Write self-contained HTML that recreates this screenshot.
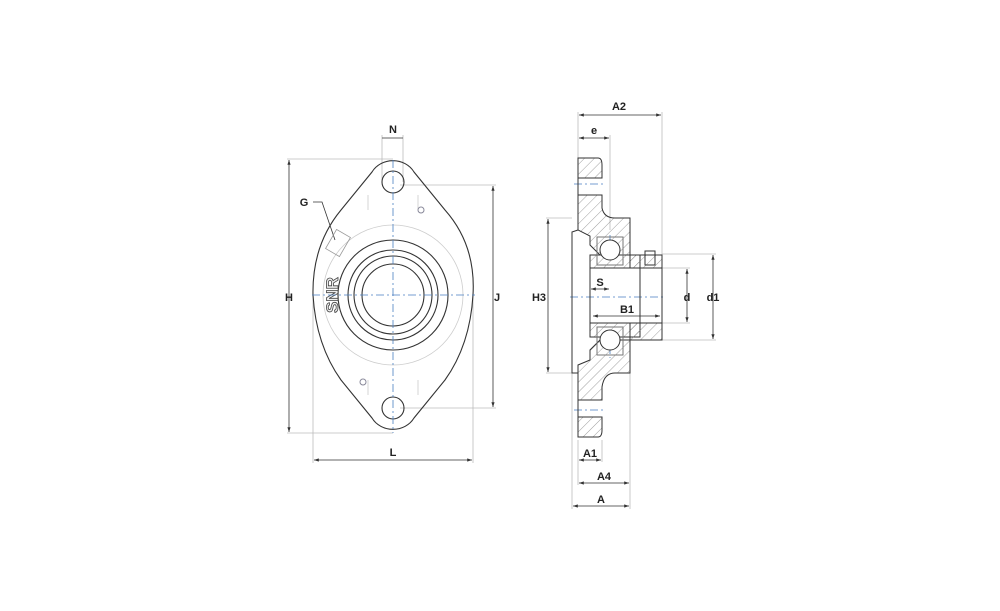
<!DOCTYPE html>
<html><head><meta charset="utf-8"><style>
html,body{margin:0;padding:0;background:#fff;}
svg{display:block;}
text{font-family:"Liberation Sans",sans-serif;font-weight:bold;font-size:11px;fill:#222;text-anchor:middle;}
</style></head><body>
<svg width="1000" height="611" viewBox="0 0 1000 611" xmlns="http://www.w3.org/2000/svg">
<defs>
<pattern id="h" width="7" height="7" patternUnits="userSpaceOnUse" patternTransform="rotate(45)">
<line x1="0" y1="0" x2="0" y2="7" stroke="#777" stroke-width="0.7"/></pattern>
<marker id="a" markerWidth="6" markerHeight="6" refX="6" refY="3" orient="auto-start-reverse"><path d="M0,1 L6,3 L0,5z" fill="#333"/></marker>
</defs>
<g fill="none" stroke="#bbb" stroke-width="0.8">
<line x1="287" y1="159" x2="393" y2="159"/><line x1="287" y1="433" x2="393" y2="433"/>
<line x1="400" y1="185" x2="496" y2="185"/><line x1="400" y1="408" x2="496" y2="408"/>
<line x1="313" y1="295" x2="313" y2="463"/><line x1="473" y1="295" x2="473" y2="463"/>
<line x1="382" y1="135" x2="382" y2="182"/><line x1="403" y1="135" x2="403" y2="182"/>
<line x1="578" y1="112" x2="578" y2="158"/><line x1="662" y1="112" x2="662" y2="255"/>
<line x1="610" y1="135" x2="610" y2="230"/>
<line x1="546" y1="218" x2="572" y2="218"/><line x1="546" y1="373" x2="572" y2="373"/>
<line x1="640" y1="268" x2="690" y2="268"/><line x1="640" y1="323" x2="690" y2="323"/>
<line x1="662" y1="254" x2="716" y2="254"/><line x1="662" y1="340" x2="716" y2="340"/>
<line x1="578" y1="440" x2="578" y2="485"/><line x1="602" y1="440" x2="602" y2="462"/>
<line x1="572" y1="373" x2="572" y2="509"/><line x1="630" y1="373" x2="630" y2="509"/>
</g>
<g stroke="#333" stroke-width="0.8" fill="none" marker-start="url(#a)" marker-end="url(#a)">
<line x1="289" y1="160" x2="289" y2="432"/>
<line x1="493" y1="186" x2="493" y2="407"/>
<line x1="314" y1="460" x2="472" y2="460"/>
<line x1="579" y1="115" x2="661" y2="115"/>
<line x1="579" y1="138" x2="609" y2="138"/>
<line x1="548" y1="219" x2="548" y2="372"/>
<line x1="687" y1="269" x2="687" y2="322"/>
<line x1="713" y1="255" x2="713" y2="339"/>
<line x1="579" y1="460" x2="601" y2="460"/>
<line x1="579" y1="483" x2="629" y2="483"/>
<line x1="573" y1="506" x2="629" y2="506"/>
<line x1="591" y1="289" x2="609" y2="289"/>
<line x1="593" y1="316" x2="660" y2="316"/>
</g>
<g stroke="#333" stroke-width="0.8" fill="none">
<line x1="382" y1="138" x2="403" y2="138"/>
<polyline points="313,202 322,202 335,240"/>
</g>
<g fill="none" stroke="#333" stroke-width="1.1">
<path d="M372,172 A24,22 0 0 1 414,172 L445,210 Q476,245 473,295 Q470,345 445,380 L414,418 A24,22 0 0 1 372,418 L341,380 Q316,345 313,295 Q312,245 341,210 Z"/>
<circle cx="393" cy="182" r="11"/><circle cx="393" cy="408" r="11"/>
<circle cx="393" cy="295" r="55"/>
<circle cx="393" cy="295" r="45"/>
<circle cx="393" cy="295" r="39"/>
<circle cx="393" cy="295" r="31"/>
</g>
<g fill="none" stroke="#ccc" stroke-width="0.8">
<circle cx="393" cy="295" r="70"/>
<path d="M368,210 L368,195 M418,210 L418,195 M368,380 L368,395 M418,380 L418,395"/>
<rect x="330" y="232" width="16" height="22" transform="rotate(30 338 243)" stroke="#999"/>
</g>
<circle cx="421" cy="210" r="3" fill="none" stroke="#889"/>
<circle cx="363" cy="382" r="3" fill="none" stroke="#889"/>
<text x="332" y="301" stroke="#444" stroke-width="0.8" transform="rotate(-90 332 295)" style="fill:#eee;font-size:17px">SNR</text>
<g stroke="#4a7fc1" stroke-width="0.8" stroke-dasharray="8,3,2,3" fill="none">
<line x1="393" y1="160" x2="393" y2="433"/>
<line x1="312" y1="295" x2="475" y2="295"/>
<line x1="570" y1="297" x2="665" y2="297"/>
<line x1="574" y1="184" x2="604" y2="184"/>
<line x1="574" y1="410" x2="604" y2="410"/>
<line x1="610" y1="235" x2="610" y2="262"/>
<line x1="610" y1="330" x2="610" y2="358"/>
</g>
<g stroke="#333" stroke-width="1" fill="url(#h)">
<path d="M578,158 L598,158 Q602,158 602,165 L602,178 L578,178 Z"/>
<path d="M578,195 L602,195 L602,208 Q604,218 615,218 L630,218 L630,255 L600,255 L590,245 L590,236 L578,230 Z"/>
<path d="M578,417 L602,417 L602,430 Q602,437 598,437 L578,437 Z"/>
<path d="M578,400 L602,400 L602,387 Q604,373 615,373 L630,373 L630,340 L600,340 L590,350 L590,360 L578,365 Z"/>
<path d="M590,255 L640,255 L640,268 L590,268 Z"/>
<path d="M590,323 L640,323 L640,337 L590,337 Z"/>
<path d="M630,255 L662,255 L662,268 L630,268 Z"/>
<path d="M630,323 L662,323 L662,340 L630,340 Z"/>
</g>
<g fill="none" stroke="#333" stroke-width="1">
<path d="M578,230 L572,232 L572,373 L578,373"/>
<line x1="578" y1="178" x2="578" y2="195"/><line x1="578" y1="400" x2="578" y2="417"/>
<line x1="590" y1="268" x2="590" y2="323"/>
<line x1="640" y1="268" x2="640" y2="323"/>
<line x1="662" y1="268" x2="662" y2="323"/>
<rect x="645" y="251" width="10" height="14"/>
<circle cx="610" cy="250" r="10" fill="#fff"/>
<circle cx="610" cy="340" r="10" fill="#fff"/>
<rect x="597" y="237" width="26" height="28" stroke="#777"/>
<rect x="597" y="327" width="26" height="28" stroke="#777"/>
</g>
<g font-size="11">
<text x="289" y="301">H</text>
<text x="497" y="301">J</text>
<text x="393" y="456">L</text>
<text x="393" y="133">N</text>
<text x="304" y="206">G</text>
<text x="619" y="110">A2</text>
<text x="594" y="134">e</text>
<text x="539" y="301">H3</text>
<text x="600" y="286">S</text>
<text x="627" y="313">B1</text>
<text x="687" y="301">d</text>
<text x="713" y="301">d1</text>
<text x="590" y="457">A1</text>
<text x="604" y="480">A4</text>
<text x="601" y="503">A</text>
</g>
</svg>
</body></html>
